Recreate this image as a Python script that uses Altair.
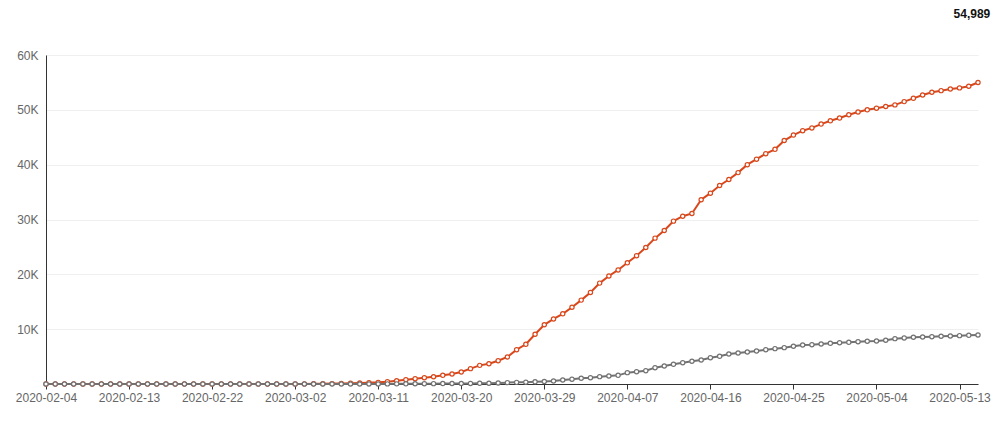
import altair as alt
import pandas as pd

start_date = "2020-02-04"
n_days = 102

confirmed = [
    0, 0, 0, 0, 0, 0, 0, 0, 0, 0,
    0, 0, 0, 0, 0, 0, 0, 0, 0, 1,
    1, 1, 1, 2, 3, 5,
    8, 12, 20, 30, 45, 70, 100, 140, 180, 240,
    300, 420, 600, 790, 970, 1150, 1330, 1580, 1825, 2190,
    2800, 3400, 3700, 4250, 4930, 6260, 7240, 9070, 10800, 11860,
    12800, 14000, 15300, 16700, 18400, 19700, 20800, 22100, 23400, 24900,
    26600, 28000, 29700, 30600, 31100, 33600, 34800, 36200, 37300, 38550,
    40000, 41000, 42000, 42800, 44400, 45400, 46200, 46700, 47400, 48000,
    48500, 49100, 49600, 50000, 50300, 50600, 50900, 51500, 52100, 52700,
    53200, 53500, 53800, 54000, 54300, 54989,
]

deaths = [
    0, 0, 0, 0, 0, 0, 0, 0, 0, 0,
    0, 0, 0, 0, 0, 0, 0, 0, 0, 0,
    0, 0, 0, 0, 0, 0, 0, 0, 0, 0,
    0, 2, 3, 5, 8, 10, 15, 20, 28, 35,
    45, 55, 65, 75, 85, 95, 105, 120, 130, 180,
    250, 300, 330, 400, 460, 550, 730, 880, 1040, 1150,
    1340, 1460, 1580, 2070, 2250, 2430, 2980, 3290, 3590, 3890,
    4140, 4380, 4800, 5050, 5475, 5660, 5840, 6020, 6260, 6450,
    6630, 6880, 7120, 7170, 7300, 7420, 7540, 7600, 7720, 7790,
    7850, 7970, 8270, 8400, 8520, 8580, 8630, 8700, 8760, 8820,
    8880, 8940,
]

series_names = ["confirmed", "deaths"]
series_colors = ["#d8481c", "#727272"]
tick_dates = ["2020-02-04", "2020-02-13", "2020-02-22", "2020-03-02", "2020-03-11",
              "2020-03-20", "2020-03-29", "2020-04-07", "2020-04-16", "2020-04-25",
              "2020-05-04", "2020-05-13"]
headline = "54,989"

dates = pd.date_range(start_date, periods=n_days, freq="D").strftime("%Y-%m-%d").tolist()
df = pd.concat([
    pd.DataFrame({"date": dates, "value": confirmed, "series": series_names[0], "order": 0}),
    pd.DataFrame({"date": dates, "value": deaths, "series": series_names[1], "order": 1}),
])

def dt(s):
    y, m, d = (int(p) for p in s.split("-"))
    return alt.DateTime(year=y, month=m, date=d, utc=True)

font = "Liberation Sans"

x_enc = alt.X("date:T", timeUnit="utcyearmonthdate", title=None,
              scale=alt.Scale(domain=[dt(dates[0]), dt(dates[-1])], nice=False),
              axis=alt.Axis(values=[dt(t) for t in tick_dates], format="%Y-%m-%d",
                            grid=False, domainColor="#333", tickColor="#333", tickSize=5,
                            labelColor="#666", labelFontSize=12, labelPadding=3,
                            labelFont=font, labelOverlap=False, labelFlush=False))
y_enc = alt.Y("value:Q", title=None,
              scale=alt.Scale(domain=[0, 60000], nice=False),
              axis=alt.Axis(values=[0, 10000, 20000, 30000, 40000, 50000, 60000],
                            labelExpr="datum.value == 0 ? '' : (datum.value / 1000) + 'K'",
                            gridColor="#efefef", domainColor="#333", ticks=False,
                            labelColor="#666", labelFontSize=12, labelPadding=8,
                            labelFont=font))
col_scale = alt.Scale(domain=series_names, range=series_colors)

base = alt.Chart(df).encode(x=x_enc, y=y_enc)

lines = base.mark_line(strokeWidth=2).encode(
    color=alt.Color("series:N", scale=col_scale, legend=None),
    detail="series:N",
)
points = base.mark_point(filled=False, fill="white", fillOpacity=1, size=18,
                         strokeWidth=1.2, opacity=1).encode(
    stroke=alt.Stroke("series:N", scale=col_scale, legend=None),
)

chart = alt.layer(lines, points).properties(
    width=932, height=329,
    title=alt.TitleParams(headline, anchor="end", fontSize=12, fontWeight="bold",
                          font=font, color="#111", offset=28),
    autosize=alt.AutoSizeParams(type="none"),
    padding={"left": 38, "top": 47, "right": 13, "bottom": 31},
).configure_view(stroke=None)

chart.save("out.html", embed_options={"renderer": "svg", "actions": False})
